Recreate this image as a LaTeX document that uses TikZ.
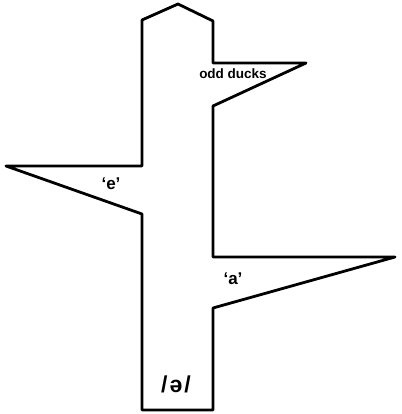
\documentclass[tikz,border=0pt]{standalone}
\usepackage{fontspec}
\setmainfont{Liberation Sans}
\begin{document}
\begin{tikzpicture}[x=1pt,y=-1pt,
  outline/.style={draw=black,line width=2.8pt,line join=round},
  lbl/.style={inner sep=0pt}]
\useasboundingbox (0,0) rectangle (401,414);
\draw[outline] (142,410) -- (142,214) -- (6,166) -- (142,166) -- (142,20) -- (178,4) -- (213,21)
  -- (213,63) -- (306,63) -- (213,106) -- (213,257) -- (395,257) -- (213,308) -- (213,410) -- cycle;
\node[lbl,font=\bfseries\fontsize{13.5}{15}\selectfont] (odd) at (233,74) {odd ducks};
\node[lbl,font=\bfseries\fontsize{17}{19}\selectfont] (e) at (111,184) {‘e’};
\node[lbl,font=\bfseries\fontsize{17}{19}\selectfont] (a) at (233,279) {‘a’};
\node[lbl,font=\bfseries\fontsize{23}{26}\selectfont] (schwa) at (176,384) {/\hspace{2pt}ə\hspace{2pt}/};
\end{tikzpicture}
\end{document}
